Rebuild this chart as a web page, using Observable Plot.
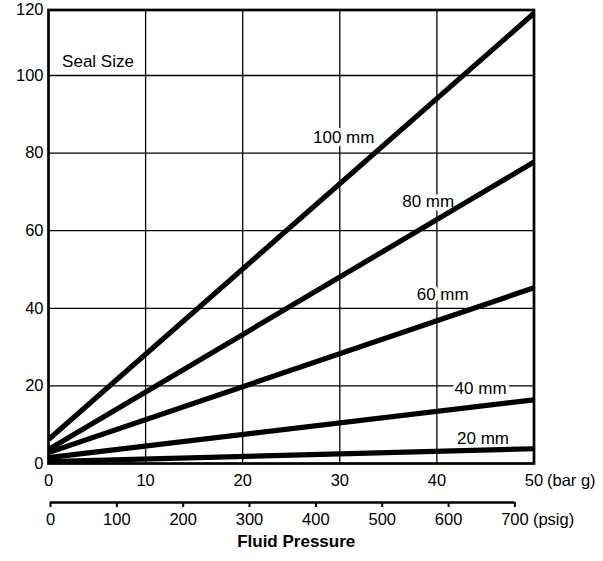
<!DOCTYPE html>
<html><head><meta charset="utf-8">
<script src="https://cdn.jsdelivr.net/npm/d3@7"></script>
<script src="https://cdn.jsdelivr.net/npm/@observablehq/plot@0.6"></script>
<style>html,body{margin:0;padding:0;background:#fff}#chart svg{display:block}</style>
</head><body><div id="chart"></div>
<script>
// ---- data ----
const pressureBar = [0, 50];                       // line endpoints (bar g)
const sealSizes   = ["20 mm", "40 mm", "60 mm", "80 mm", "100 mm"];
const forceAtStart = [0.5, 1.5, 2.8, 3.6, 6.2];    // value at 0 bar
const forceAtEnd   = [3.8, 16.4, 45.3, 77.7, 119]; // value at 50 bar
const labelBar   = [44.75, 44.5, 40.6, 39.1, 30.4];
const labelForce = [6.5, 19.25, 43.5, 67.4, 83.9];
const legendTitle = "Seal Size";
const legendBar = [1.4];
const legendForce = [104.4];
const barTicks  = [0, 10, 20, 30, 40, 50];
const barGrid   = [10, 20, 30, 40];
const forceTicks = [0, 20, 40, 60, 80, 100, 120];
const forceGrid  = [20, 40, 60, 80, 100];
const barUnit = "(bar g)";
const psigTicks = [0, 100, 200, 300, 400, 500, 600, 700];
const psigUnit = "(psig)";
const axisTitle = "Fluid Pressure";

const rows = sealSizes.flatMap((s, i) => [
  {size: s, bar: pressureBar[0], force: forceAtStart[i]},
  {size: s, bar: pressureBar[1], force: forceAtEnd[i]}
]);
const labels = sealSizes.map((s, i) => ({size: s, bar: labelBar[i], force: labelForce[i]}));

const font = '"Liberation Sans", Arial, Helvetica, sans-serif';
const style = {fontFamily: font, fontSize: "16px", color: "#000", background: "#fff"};

const main = Plot.plot({
  width: 603, height: 490,
  marginLeft: 48, marginRight: 69.5, marginTop: 9.5, marginBottom: 27,
  style,
  x: {type: "linear", domain: [0, 50], label: null},
  y: {type: "linear", domain: [0, 100, 120], range: [463, 75, 9.5], label: null},
  marks: [
    Plot.gridX(barGrid, {stroke: "#000", strokeOpacity: 1, strokeWidth: 1.3}),
    Plot.gridY(forceGrid, {stroke: "#000", strokeOpacity: 1, strokeWidth: 1.3}),
    Plot.text(labels, {x: "bar", y: "force", text: "size", fontSize: 17, fill: "#000", stroke: "#fff", strokeWidth: 7}),
    Plot.text([legendTitle], {x: legendBar, y: legendForce, text: d => d, textAnchor: "start", fontSize: 17, fill: "#000"}),
    Plot.line(rows, {x: "bar", y: "force", z: "size", stroke: "#000", strokeWidth: 5.2, strokeLinecap: "butt", clip: true}),
    Plot.frame({stroke: "#000", strokeWidth: 2.7}),
    Plot.axisX(barTicks, {anchor: "bottom", tickSize: 0, tickPadding: 11, fontSize: 16.5, label: null}),
    Plot.text([pressureBar[1]], {x: d => d, frameAnchor: "bottom", text: () => barUnit, lineAnchor: "top", textAnchor: "start", dy: 11, dx: 13, fontSize: 16.5, fill: "#000"}),
    Plot.axisY(forceTicks, {anchor: "left", tickSize: 0, tickPadding: 5, fontSize: 16.5, label: null})
  ]
});

const psig = Plot.plot({
  width: 603, height: 71,
  marginLeft: 50, marginRight: 88.6, marginTop: 12, marginBottom: 59,
  style,
  x: {type: "linear", domain: [0, 700], label: null},
  y: {domain: [0, 1], axis: null},
  marks: [
    Plot.ruleY([0], {stroke: "#000", strokeWidth: 2.6}),
    Plot.axisX(psigTicks, {anchor: "bottom", tickSize: 5, tickPadding: 6, strokeWidth: 2, fontSize: 16.5, label: null}),
    Plot.text([psigTicks[psigTicks.length - 1]], {x: d => d, frameAnchor: "bottom", text: () => psigUnit, lineAnchor: "top", textAnchor: "start", dy: 11, dx: 18, fontSize: 16.5, fill: "#000"}),
    Plot.text([axisTitle], {frameAnchor: "bottom", text: d => d, dy: 44.7, dx: 13.5, fontWeight: "bold", fontSize: 17, fill: "#000"})
  ]
});

const root = document.getElementById("chart");
root.appendChild(main);
root.appendChild(psig);
</script>
</body></html>
